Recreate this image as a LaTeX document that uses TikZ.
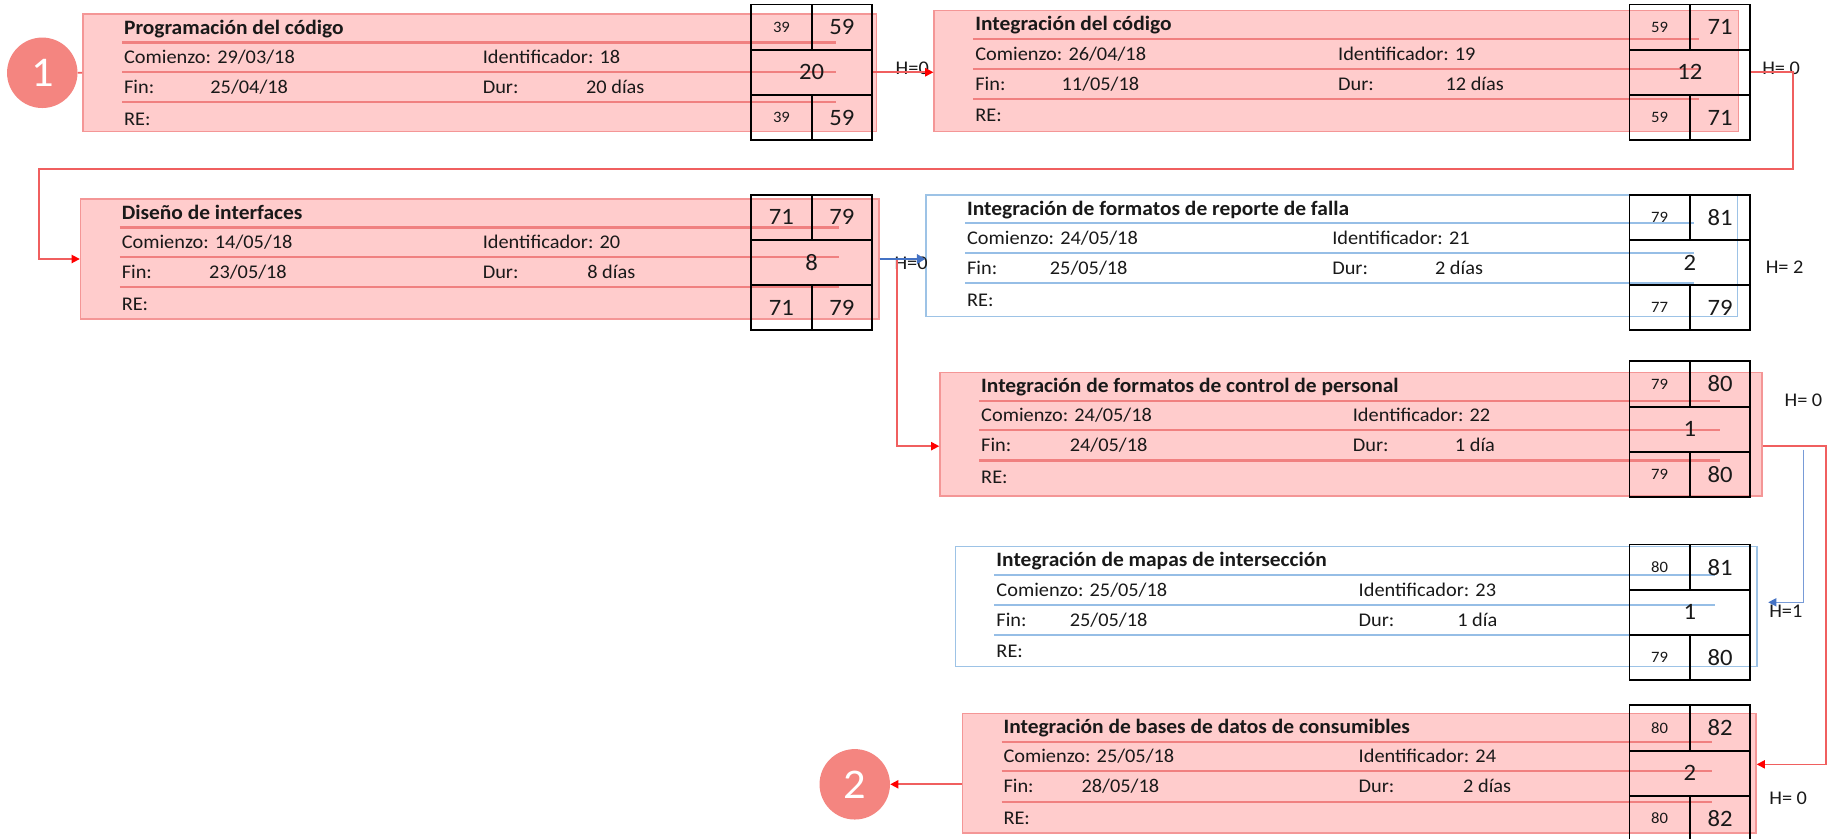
\documentclass[tikz,border=0pt]{standalone}
\usepackage{fontspec}
\setmainfont{Carlito}[FakeStretch=1.05]
\usetikzlibrary{arrows.meta}

\definecolor{fondoRosa}{RGB}{255,204,204}
\definecolor{bordeRosa}{RGB}{244,150,150}
\definecolor{lineaRosa}{RGB}{240,128,128}
\definecolor{bordeAzul}{RGB}{157,195,230}
\definecolor{lineaAzul}{RGB}{150,190,230}
\definecolor{conRoja}{RGB}{240,95,95}
\definecolor{puntaRoja}{RGB}{255,0,0}
\definecolor{conAzul}{RGB}{68,114,196}
\definecolor{conAzulClaro}{RGB}{120,155,215}
\definecolor{circulo}{RGB}{244,133,128}
\definecolor{tinta}{RGB}{25,25,25}

\newcommand{\ftexto}{\fontsize{16.5}{19}\selectfont}
\newcommand{\ftitulo}{\fontsize{17.4}{20}\selectfont\bfseries}
\newcommand{\nchico}{\fontsize{13.5}{15}\selectfont}
\newcommand{\ngrande}{\fontsize{20}{23}\selectfont}
\newcommand{\fhol}{\fontsize{16.5}{19}\selectfont}

% background rectangle of an activity box with its three rule lines
% #1 name, #2 kind (rosa/azul), #3 x, #4 y, #5 width, #6 height, #7 end of rules
\newcommand{\cajafondo}[7]{%
  \node[#2box, minimum width=#5pt, minimum height=#6pt] (#1) at (#3,#4) {};
  \begin{scope}[shift={(#1.north west)}]
    \draw[#2line] (34,24.8) -- (#7,24.8);
    \draw[#2line] (34,50) -- (#7,50);
    \draw[#2line] (34,75.7) -- (#7,75.7);
  \end{scope}}

% texts of an activity box
% #1 box, #2 title, #3 start, #4 id, #5 end, #6 duration,
% #7 x of second column, #8 x of end date, #9 x of duration value
\newcommand{\textos}[9]{%
  \begin{scope}[shift={(#1.north west)}]
    \node[titulo] (#1-tit) at (35.5,13.5) {#2};
    \node[dato] (#1-com) at (35.5,38.5) {Comienzo: #3};
    \node[dato] (#1-id)  at (#7,38.5) {Identificador: #4};
    \node[dato] (#1-fin) at (35.5,64) {Fin:};
    \node[dato] (#1-ff)  at (#8,64) {#5};
    \node[dato] (#1-dur) at (#7,64) {Dur:};
    \node[dato] (#1-dd)  at (#9,64) {#6};
    \node[dato] (#1-re)  at (35.5,91) {RE:};
  \end{scope}}

% time grid: #1 name, #2 x, #3 y, #4 early start, #5 early finish,
% #6 duration, #7 late start, #8 late finish, #9 font of left cells
\newcommand{\rejilla}[9]{%
  \node[celda, minimum width=51.5pt, font=#9] (#1-tl) at (#2,#3) {#4};
  \node[celda, minimum width=51.5pt, font=\ngrande] (#1-tr) at (#2+51.5,#3) {#5};
  \node[celda, minimum width=103pt, font=\ngrande] (#1-m) at (#2,#3+38.5) {#6};
  \node[celda, minimum width=51.5pt, font=#9] (#1-bl) at (#2,#3+77) {#7};
  \node[celda, minimum width=51.5pt, font=\ngrande] (#1-br) at (#2+51.5,#3+77) {#8};}

\begin{document}
\begin{tikzpicture}[x=1pt,y=-1pt,
  rosabox/.style={draw=bordeRosa, fill=fondoRosa, line width=1.2pt, anchor=north west, inner sep=0pt},
  azulbox/.style={draw=bordeAzul, fill=white, line width=1.2pt, anchor=north west, inner sep=0pt},
  rosaline/.style={draw=lineaRosa, line width=1.8pt},
  azulline/.style={draw=lineaAzul, line width=1.8pt},
  titulo/.style={anchor=west, inner sep=0pt, font=\ftitulo, text=tinta, text height=12pt, text depth=3.5pt},
  dato/.style={anchor=west, inner sep=0pt, font=\ftexto, text=tinta, text height=12pt, text depth=3.5pt},
  celda/.style={draw=black, line width=1.6pt, anchor=north west, inner sep=0pt, minimum height=38.5pt, text=tinta},
  circ/.style={circle, fill=circulo, minimum size=60pt, inner sep=0pt, text=white, font=\fontsize{36}{40}\selectfont},
  holgura/.style={inner sep=0pt, font=\fhol, text=tinta},
  conroja/.style={draw=conRoja, line width=1.4pt},
  puntaroja/.style={-{Triangle[length=7pt,width=7pt,color=puntaRoja]}},
  conazul/.style={draw=conAzul, line width=2.4pt, -{Triangle[length=7pt,width=8pt,color=conAzul]}},
  conazulfino/.style={draw=conAzulClaro, line width=1.2pt, -{Triangle[length=7pt,width=7pt,color=conAzul]}}
]
\useasboundingbox (0,0) rectangle (1568,714);
\fill[white] (0,0) rectangle (1568,714);

% activity boxes
\cajafondo{pA}{rosa}{70}{11.4}{676}{100}{642}
\textos{pA}{Programación del código}{29/03/18}{18}{25/04/18}{20 días}{341}{109}{429}
\rejilla{gA}{639}{3}{39}{59}{20}{39}{59}{\nchico}

\cajafondo{pB}{rosa}{795}{8.5}{685}{103}{652}
\textos{pB}{Integración del código}{26/04/18}{19}{11/05/18}{12 días}{344.5}{109}{436}
\rejilla{gB}{1387}{3}{59}{71}{12}{59}{71}{\nchico}

\cajafondo{pC}{rosa}{68}{169}{680}{102}{647}
\textos{pC}{Diseño de interfaces}{14/05/18}{20}{23/05/18}{8 días}{343}{110}{432}
\rejilla{gC}{639}{165}{71}{79}{8}{71}{79}{\ngrande}

\cajafondo{pD}{azul}{788}{165.5}{691}{103.5}{655}
\textos{pD}{Integración de formatos de reporte de falla}{24/05/18}{21}{25/05/18}{2 días}{346.5}{106}{434}
\rejilla{gD}{1387}{165}{79}{81}{2}{77}{79}{\nchico}

\cajafondo{pE}{rosa}{800}{316.5}{700}{105.5}{665}
\textos{pE}{Integración de formatos de control de personal}{24/05/18}{22}{24/05/18}{1 día}{352}{111}{439}
\rejilla{gE}{1387}{307}{79}{80}{1}{79}{80}{\nchico}

\cajafondo{pF}{azul}{813}{465}{683}{102}{648}
\textos{pF}{Integración de mapas de intersección}{25/05/18}{23}{25/05/18}{1 día}{344}{98}{428}
\rejilla{gF}{1387}{463}{80}{81}{1}{79}{80}{\nchico}

\cajafondo{pG}{rosa}{819}{607}{676}{102}{639}
\textos{pG}{Integración de bases de datos de consumibles}{25/05/18}{24}{28/05/18}{2 días}{338}{102}{427}
\rejilla{gG}{1387}{600}{80}{82}{2}{80}{82}{\nchico}

% start and end events
\node[circ] (c1) at (36,62) {1};
\node[circ] (c2) at (728,668) {2};

% slack labels
\node[holgura] (hAB) at (777,58) {H=0};
\node[holgura] (hB) at (1517,58) {H= 0};
\node[holgura] (hC) at (776,224) {H=0};
\node[holgura] (hD) at (1520,228) {H= 2};
\node[holgura] (hE) at (1536,341) {H= 0};
\node[holgura] (hF) at (1521,521) {H=1};
\node[holgura] (hG) at (1523,680) {H= 0};

% bend points of the connectors
\coordinate (bc1) at (1527,144);
\coordinate (bc2) at (33,144);
\coordinate (ce) at (764,380);
\coordinate (eg1) at (1555,380);
\coordinate (eg2) at (1555,651);
\coordinate (ef1) at (1536,383);
\coordinate (ef2) at (1536,513);
\coordinate (ef3) at (1506,513);

% connectors
\draw[conroja] (c1.east) -- (pA.west);
\draw[conroja, puntaroja] (gA-m.east) -- (gA-m.east -| pB.west);
\draw[conroja, puntaroja] (gB-m.east) -| (bc1) -- (bc2) |- (pC.west);
\draw[conroja, puntaroja] (pC.east) -| (ce) -- (ce -| pE.west);
\draw[conazul] (pC.east) -- (pC.east -| pD.west);
\draw[conroja, puntaroja] (eg1 -| pE.east) -- (eg1) -- (eg2) -- (eg2 -| pG.east);
\draw[conazulfino] (ef1) -- (ef2) -- (ef3);
\draw[conroja, puntaroja] (c2.east -| pG.west) -- (c2.east);
\end{tikzpicture}
\end{document}
